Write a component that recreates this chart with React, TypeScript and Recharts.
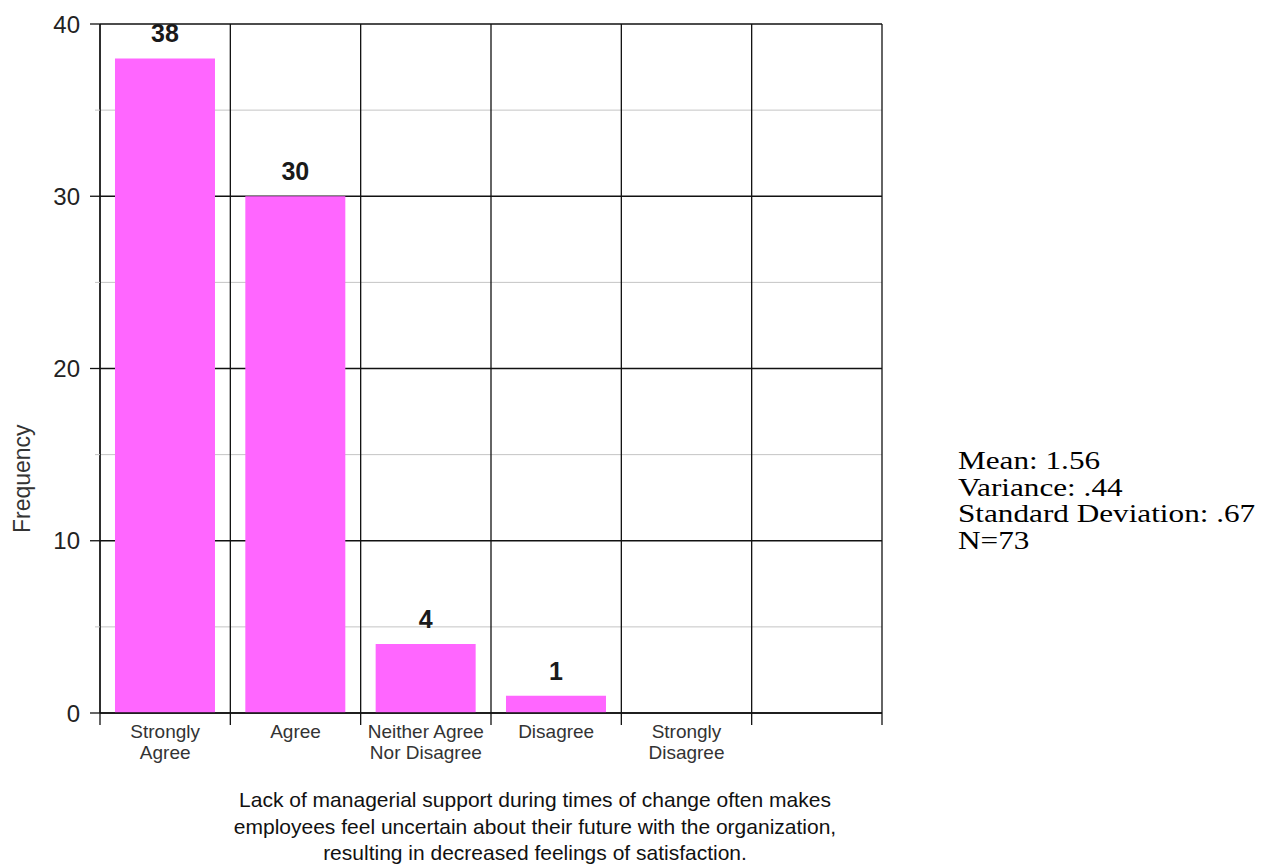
import { BarChart, Bar, XAxis, YAxis, CartesianGrid, LabelList } from 'recharts';

const categories = ['Strongly\nAgree', 'Agree', 'Neither Agree\nNor Disagree', 'Disagree', 'Strongly\nDisagree', ''];
const frequencies: (number | null)[] = [38, 30, 4, 1, null, null];
const majorTicks = [0, 10, 20, 30, 40];
const minorTicks = [5, 15, 25, 35];
const titleLines = [
  'Lack of managerial support during times of change often makes',
  'employees feel uncertain about their future with the organization,',
  'resulting in decreased feelings of satisfaction.',
];
const statLines = ['Mean: 1.56', 'Variance: .44', 'Standard Deviation: .67', 'N=73'];

const data = categories.map((name, i) => ({ name, value: frequencies[i] }));
const allYTicks = [...majorTicks, ...minorTicks].sort((a, b) => a - b);

const SANS = '"Liberation Sans", Arial, sans-serif';
const MINOR = '#c4c4c4';
const INK = '#111';

function CategoryTick({ x, y, payload, index }: any) {
  const lines = String(payload.value).split('\n');
  const half = payload.offset ?? 65;
  return (
    <g>
      <line x1={x - half} y1={y} x2={x - half} y2={y + 12} stroke={INK} strokeWidth={1.3} />
      {index === categories.length - 1 && (
        <line x1={x + half} y1={y} x2={x + half} y2={y + 12} stroke={INK} strokeWidth={1.3} />
      )}
      <text x={x} y={y} textAnchor="middle" fontFamily={SANS} fontSize={19} fill="#333">
        {lines.map((line, i) => (
          <tspan key={i} x={x} dy={i === 0 ? 25 : 21}>
            {line}
          </tspan>
        ))}
      </text>
    </g>
  );
}

function ValueTick({ x, y, payload }: any) {
  const major = majorTicks.includes(payload.value);
  if (!major) {
    return <line x1={x - 5} y1={y} x2={x} y2={y} stroke={MINOR} />;
  }
  return (
    <g>
      <line x1={x - 10} y1={y} x2={x} y2={y} stroke={INK} strokeWidth={1.3} />
      <text x={x - 20} y={y} textAnchor="end" dominantBaseline="central" fontFamily={SANS} fontSize={24} fill="#222">
        {payload.value}
      </text>
    </g>
  );
}

function FrequencyLabel({ viewBox }: any) {
  const x = viewBox.x + 14;
  const y = viewBox.y + viewBox.height * 0.66;
  return (
    <text x={x} y={y} transform={`rotate(-90, ${x}, ${y})`} textAnchor="middle" dominantBaseline="central" fontFamily={SANS} fontSize={23} fill="#333">
      Frequency
    </text>
  );
}

const boundaryLines = ({ offset }: any) =>
  categories.concat(['']).map((_, i) => offset.left + (i * offset.width) / categories.length);

const minorLines = ({ yAxis, offset }: any) =>
  minorTicks.map((v) =>
    yAxis && typeof yAxis.scale === 'function' ? yAxis.scale(v) : offset.top + offset.height * (1 - v / 40),
  );

export default function App() {
  return (
    <div style={{ position: 'relative', width: 1247, height: 859 }}>
      <BarChart
        width={900}
        height={790}
        data={data}
        margin={{ top: 16, right: 26, left: 0, bottom: 0 }}
        barCategoryGap="11.5%"
      >
        <CartesianGrid vertical={false} stroke={MINOR} horizontalCoordinatesGenerator={minorLines} />
        <CartesianGrid vertical={false} stroke={INK} strokeWidth={1.3} horizontalValues={majorTicks} />
        <CartesianGrid horizontal={false} stroke={INK} strokeWidth={1.3} verticalCoordinatesGenerator={boundaryLines} />
        <XAxis
          dataKey="name"
          height={85}
          interval={0}
          stroke={INK}
          strokeWidth={1.3}
          tickLine={false}
          tickSize={0}
          tickMargin={0}
          tick={<CategoryTick />}
        />
        <YAxis
          width={92}
          domain={[0, 40]}
          ticks={allYTicks}
          interval={0}
          tickLine={false}
          tickSize={0}
          tickMargin={0}
          stroke={INK}
          strokeWidth={1.3}
          tick={<ValueTick />}
          label={<FrequencyLabel />}
        />
        <Bar dataKey="value" fill="#ff66ff" isAnimationActive={false}>
          <LabelList
            dataKey="value"
            position="top"
            offset={16}
            style={{ fontFamily: SANS, fontSize: 25, fontWeight: 'bold', fill: '#1a1a1a' }}
          />
        </Bar>
      </BarChart>
      <div
        style={{
          position: 'absolute',
          left: 197,
          top: 779,
          width: 660,
          textAlign: 'center',
          fontFamily: SANS,
          fontSize: 21,
          lineHeight: '26.5px',
          color: '#111',
        }}
      >
        {titleLines.map((line) => (
          <div key={line}>{line}</div>
        ))}
      </div>
      <div
        style={{
          position: 'absolute',
          left: 950,
          top: 440,
          fontFamily: '"Liberation Serif", "Times New Roman", serif',
          fontSize: 26,
          lineHeight: '26.5px',
          color: '#000',
          whiteSpace: 'nowrap',
          transform: 'scaleX(1.2)',
          transformOrigin: 'left top',
        }}
      >
        {statLines.map((line) => (
          <div key={line}>{line}</div>
        ))}
      </div>
    </div>
  );
}
